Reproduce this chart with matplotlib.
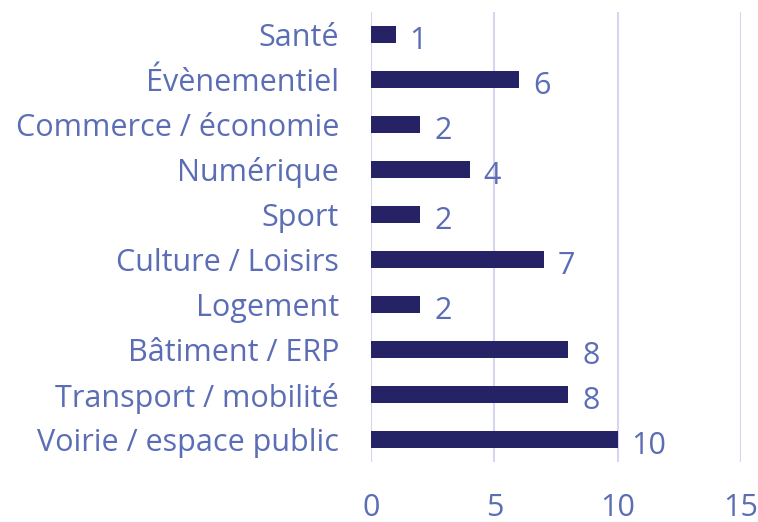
import matplotlib
matplotlib.use("Agg")
import matplotlib.pyplot as plt

categories = ["Santé", "Évènementiel", "Commerce / économie", "Numérique", "Sport",
              "Culture / Loisirs", "Logement", "Bâtiment / ERP", "Transport / mobilité",
              "Voirie / espace public"]
values = [1, 6, 2, 4, 2, 7, 2, 8, 8, 10]
xticks = [0, 5, 10, 15]

bar_color = "#252266"
text_color = "#5b6db5"
grid_color = "#d6d6f0"

plt.rcParams['font.family'] = ['Open Sans', 'DejaVu Sans']

fig = plt.figure(figsize=(7.58, 5.22), dpi=100)
ax = fig.add_axes([371/758, 60/522, 370/758, 450/522])

pos = list(range(len(categories)))
ax.barh(pos, values, height=0.36, color=bar_color, zorder=3)
ax.set_ylim(len(categories) - 0.5, -0.5)
ax.set_xlim(0, 15)
ax.set_xticks(xticks)
ax.set_yticks(pos)
ax.set_yticklabels(categories)

for p, v in zip(pos, values):
    ax.annotate(str(v), (v, p), xytext=(10, -5), textcoords="offset points",
                ha="left", va="center", color=text_color, fontsize=22)

ax.grid(axis="x", color=grid_color, linewidth=1.5, zorder=0)
for s in ax.spines.values():
    s.set_visible(False)
ax.tick_params(axis="both", length=0, labelsize=22, colors=text_color)
ax.tick_params(axis="x", pad=22)
ax.tick_params(axis="y", pad=23)

fig.savefig("out.png", dpi=100)
